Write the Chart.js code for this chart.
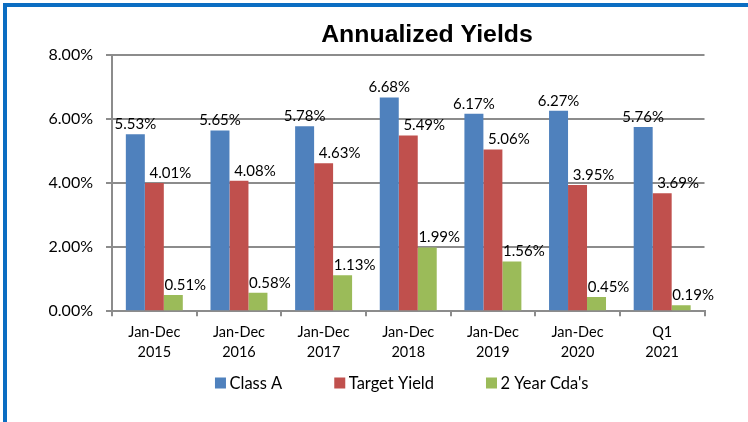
<!DOCTYPE html>
<html>
<head>
<meta charset="utf-8">
<script src="https://cdn.jsdelivr.net/npm/chart.js@4.4.1/dist/chart.umd.min.js"></script>
<style>
html, body { margin: 0; padding: 0; background: #fff; overflow: hidden; }
#frame {
  position: absolute; left: 3px; top: 3px;
  width: 741px; height: 415px;
  border-left: 4px solid #0b6dc2; border-top: 4px solid #0b6dc2;
}
canvas { display: block; }
</style>
</head>
<body>
<div id="frame"><canvas id="yields" width="741" height="415"></canvas></div>
<script>
const periods = [['Jan-Dec', '2015'], ['Jan-Dec', '2016'], ['Jan-Dec', '2017'], ['Jan-Dec', '2018'],
                 ['Jan-Dec', '2019'], ['Jan-Dec', '2020'], ['Q1', '2021']];
const classA = [5.53, 5.65, 5.78, 6.68, 6.17, 6.27, 5.76];
const targetYield = [4.01, 4.08, 4.63, 5.49, 5.06, 3.95, 3.69];
const twoYearCdas = [0.51, 0.58, 1.13, 1.99, 1.56, 0.45, 0.19];
const yTicks = [0, 2, 4, 6, 8];

const chartTitle = 'Annualized Yields';
const gridGrey = '#8c8c8c';

// label nudges per series (excel moved them around a bit)
const labelShift = [0, 16, 12];

const barLabels = {
  id: 'barLabels',
  afterDatasetsDraw(chart) {
    const ctx = chart.ctx;
    ctx.save();
    ctx.font = '15px Lato';
    ctx.fillStyle = '#000';
    ctx.textAlign = 'center';
    ctx.textBaseline = 'middle';
    chart.data.datasets.forEach((ds, i) => {
      chart.getDatasetMeta(i).data.forEach((bar, j) => {
        ctx.fillText(ds.data[j].toFixed(2) + '%', bar.x + labelShift[i], bar.y - 10);
      });
    });
    ctx.restore();
  }
};

// title + legend drawn by hand so they sit where the excel ones did
const titleAndLegend = {
  id: 'titleAndLegend',
  afterDraw(chart) {
    const ctx = chart.ctx;
    ctx.save();
    ctx.fillStyle = '#000';
    ctx.textBaseline = 'middle';
    ctx.textAlign = 'center';
    ctx.font = 'bold 23px "Liberation Sans", Arial';
    ctx.save();
    ctx.translate(420, 29);
    ctx.scale(1.08, 1);
    ctx.fillText(chartTitle, 0, 0);
    ctx.restore();

    ctx.font = '16.5px Lato';
    ctx.textAlign = 'left';
    const box = 11, gap = 3.5, spacing = 52;
    const items = chart.data.datasets.map(ds => ({ text: ds.label, color: ds.backgroundColor, w: ctx.measureText(ds.label).width }));
    let total = items.reduce((s, it) => s + box + gap + it.w, 0) + spacing * (items.length - 1);
    let x = 394.7 - total / 2;
    const y = 376;
    items.forEach(it => {
      ctx.fillStyle = it.color;
      ctx.fillRect(x, y - box / 2, box, box);
      ctx.fillStyle = '#000';
      ctx.fillText(it.text, x + box + gap, y + 0.5);
      x += box + gap + it.w + spacing;
    });
    ctx.restore();
  }
};

const ctxYields = document.getElementById('yields').getContext('2d');
const yieldsChart = new Chart(ctxYields, {
  type: 'bar',
  data: {
    labels: periods,
    datasets: [
      { label: 'Class A', data: classA, backgroundColor: '#4f81bd' },
      { label: 'Target Yield', data: targetYield, backgroundColor: '#c0504d' },
      { label: "2 Year Cda's", data: twoYearCdas, backgroundColor: '#9bbb59' }
    ]
  },
  options: {
    responsive: false,
    animation: false,
    datasets: {
      bar: { categoryPercentage: 0.673, barPercentage: 1.0 }
    },
    layout: {
      padding: { left: 0, right: 43.5, top: 48.3, bottom: 59.7 }
    },
    plugins: {
      legend: { display: false },
      title: { display: false },
      tooltip: { enabled: false }
    },
    scales: {
      x: {
        afterFit: scale => { scale.height = 51; },
        grid: {
          display: true,
          drawOnChartArea: false,
          drawTicks: true,
          tickLength: 5,
          color: gridGrey,
          lineWidth: 2
        },
        border: { display: true, color: gridGrey, width: 2 },
        ticks: {
          color: '#000',
          padding: 6,
          maxRotation: 0,
          font: { family: 'Lato', size: 14.5, lineHeight: '20px' }
        }
      },
      y: {
        min: 0,
        max: 8,
        afterFit: scale => { scale.width = 105; },
        afterBuildTicks: scale => { scale.ticks = yTicks.map(v => ({ value: v })); },
        grid: { color: gridGrey, lineWidth: 2, tickLength: 6 },
        border: { display: true, color: gridGrey, width: 2 },
        ticks: {
          color: '#000',
          padding: 13,
          font: { family: 'Lato', size: 16 },
          callback: v => v.toFixed(2) + '%'
        }
      }
    }
  },
  plugins: [barLabels, titleAndLegend]
});
</script>
</body>
</html>
